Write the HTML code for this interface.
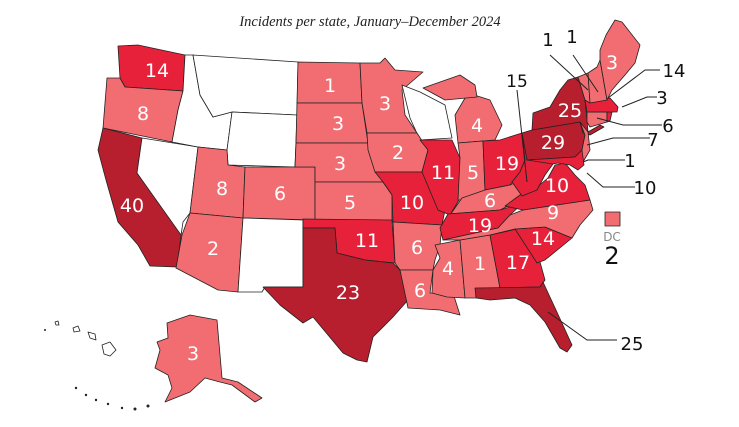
<!DOCTYPE html>
<html><head><style>
body{margin:0;background:#fff;width:739px;height:427px;overflow:hidden}
svg{display:block}
.s{stroke:#222;stroke-width:0.8;stroke-linejoin:round}
.L{fill:#f26d72}.M{fill:#e8213b}.D{fill:#b71f2e}.W{fill:#fff}
.t{font-family:"DejaVu Sans","Liberation Sans",sans-serif;fill:#fff;font-size:19px;text-anchor:middle}
.k{font-family:"DejaVu Sans","Liberation Sans",sans-serif;fill:#111;font-size:18px;text-anchor:middle}
.ln{stroke:#222;stroke-width:1;fill:none}
</style></head><body>
<svg width="739" height="427" viewBox="0 0 739 427">
<text x="370" y="26" text-anchor="middle" font-family="Liberation Serif,serif" font-style="italic" font-size="14.5" fill="#222">Incidents per state, January–December 2024</text>
<g class="s">
<polygon class="M" points="118,46 138,45 185,55 183,91 125,87 120,78"/>
<polygon class="L" points="107,78 120,78 125,87 183,91 178,110 172,142 103,128"/>
<polygon class="D" points="103,128 142,138 137,173 182,228 177,267 150,266 138,245 118,222 106,180 98,150"/>
<polygon class="W" points="142,138 198,147 190,213 183,222 181,235 137,173"/>
<polygon class="W" points="185,55 193,55 200,95 213,117 232,112 227,150 198,147 172,142 178,110 183,91"/>
<polygon class="W" points="193,55 298,62 297,115 232,112 213,117 200,95"/>
<polygon class="W" points="232,112 297,115 295,167 228,165 227,150"/>
<polygon class="L" points="198,147 227,150 228,165 245,167 243,218 190,213"/>
<polygon class="L" points="245,167 315,167 315,220 243,218"/>
<polygon class="L" points="190,213 243,218 238,292 218,290 176,268 182,235"/>
<polygon class="W" points="243,218 303,220 303,287 265,287 262,292 238,292"/>
<polygon class="L" points="298,62 360,63 362,103 297,103"/>
<polygon class="L" points="297,103 362,103 368,143 296,143"/>
<polygon class="L" points="296,143 368,143 375,160 383,182 315,182 315,167 295,167"/>
<polygon class="L" points="315,182 383,182 392,195 392,222 315,220"/>
<polygon class="M" points="303,219 392,220 395,263 365,260 337,253 335,228 303,228"/>
<polygon class="D" points="303,228 335,228 337,253 365,260 393,263 400,270 408,300 393,317 373,337 367,362 357,360 343,353 313,317 303,323 280,305 263,287 303,287"/>
<polygon class="L" points="360,63 380,63 385,58 395,70 423,72 402,90 405,115 417,133 367,133 362,103"/>
<polygon class="W" points="402,85 420,92 445,105 452,138 420,140 410,118"/>
<polygon class="L" points="367,133 417,133 428,150 422,172 375,172 368,150"/>
<polygon class="M" points="375,172 422,172 438,195 445,210 442,225 393,222 392,195 383,182"/>
<polygon class="L" points="393,222 442,225 440,245 435,260 433,270 400,270 395,263"/>
<polygon class="L" points="400,270 433,270 430,293 453,293 460,315 440,310 408,308"/>
<polygon class="M" points="420,140 452,140 460,158 462,195 450,215 438,210 422,172 428,150"/>
<polygon class="L" points="468,93 490,100 502,125 495,140 458,143 455,115"/>
<polygon class="L" points="423,88 460,75 475,85 477,97 445,100"/>
<polygon class="L" points="458,143 483,141 485,190 470,200 458,200 460,158"/>
<polygon class="M" points="483,141 500,140 522,133 525,160 520,172 510,185 485,190"/>
<polygon class="L" points="450,215 462,198 485,190 510,185 520,180 522,195 510,205 500,210 448,214"/>
<polygon class="M" points="448,214 500,210 523,203 510,215 498,228 443,240 440,228"/>
<polygon class="L" points="435,245 460,240 465,298 447,297 432,293 433,270 440,258"/>
<polygon class="L" points="460,240 490,235 500,288 478,290 476,298 465,298"/>
<polygon class="M" points="490,235 517,229 540,262 545,280 540,287 500,288"/>
<polygon class="D" points="475,288 540,287 543,282 556,310 572,345 567,352 560,348 545,322 530,305 515,298 490,300 476,298"/>
<polygon class="M" points="515,229 545,227 572,238 545,260 537,263"/>
<polygon class="L" points="498,228 510,215 523,210 590,200 593,210 580,225 572,238 545,227 515,229 490,235 460,240 443,240"/>
<polygon class="M" points="505,206 520,195 537,187 548,178 555,165 565,163 575,175 585,185 590,200 523,210"/>
<polygon class="M" points="522,133 527,160 545,160 553,164 545,175 537,190 522,196 512,182 520,172 525,160"/>
<polygon class="D" points="522,133 532,130 580,122 585,135 582,150 575,157 527,160"/>
<polygon class="D" points="532,130 533,113 550,107 560,90 568,80 578,77 585,100 587,120 588,132 600,125 604,127 590,135 583,133 580,122"/>
<polygon class="L" points="580,122 588,132 590,150 583,162 579,155 582,150 585,135"/>
<polygon class="M" points="527,160 575,157 582,150 584,165 578,170 570,165 558,163 553,164"/>
<polygon class="L" points="587,112 607,112 607,122 590,127 587,122"/>
<polygon class="M" points="607,112 612,112 610,121 607,122"/>
<polygon class="M" points="585,100 610,98 618,107 617,112 587,112"/>
<polygon class="L" points="578,77 588,73 590,103 585,100"/>
<polygon class="L" points="588,73 597,67 600,60 607,100 590,103"/>
<polygon class="L" points="600,50 606,35 615,20 622,22 640,45 635,63 625,75 612,90 607,100 600,60"/>
<polygon class="L" points="167,323 190,315 217,320 222,378 238,382 262,398 255,402 232,385 220,382 205,378 190,392 165,402 172,388 168,375 155,368 160,350 157,342 168,338"/>
<polygon class="L" points="605,212 620,212 620,226 605,226"/>
<polygon class="W" points="102,345 110,342 116,350 110,356 104,354"/>
<polygon class="W" points="73,328 78,326 80,331 74,332"/>
<polygon class="W" points="88,332 95,334 96,340 90,338"/>
<polygon class="W" points="55,322 58,321 59,325 56,325"/>
</g>
<g fill="#222"><circle cx="45" cy="330" r="1"/><circle cx="76" cy="388" r="1.2"/><circle cx="86" cy="395" r="1.2"/><circle cx="96" cy="400" r="1.2"/><circle cx="108" cy="404" r="1.2"/><circle cx="122" cy="408" r="1.2"/><circle cx="135" cy="409" r="1.5"/><circle cx="148" cy="406" r="1.5"/></g>
<g class="t">
<text x="157" y="77">14</text><text x="143" y="120">8</text><text x="132" y="212">40</text>
<text x="222" y="195">8</text><text x="280" y="200">6</text><text x="213" y="255">2</text>
<text x="330" y="92">1</text><text x="385" y="110">3</text><text x="338" y="130">3</text><text x="340" y="170">3</text><text x="350" y="209">5</text>
<text x="398" y="159">2</text><text x="412" y="209">10</text><text x="417" y="254">6</text>
<text x="367" y="247">11</text><text x="348" y="299">23</text><text x="420" y="297">6</text>
<text x="443" y="179">11</text><text x="477" y="132">4</text><text x="473" y="179">5</text><text x="507" y="170">19</text>
<text x="490" y="207">6</text><text x="480" y="232">19</text><text x="448" y="275">4</text><text x="480" y="270">1</text>
<text x="518" y="269">17</text><text x="543" y="245">14</text><text x="557" y="192">10</text><text x="553" y="219">9</text>
<text x="553" y="149">29</text><text x="570" y="117">25</text><text x="612" y="69">3</text><text x="193" y="360">3</text>
</g>
<g class="k">
<text x="517" y="87" font-size="17">15</text><text x="548" y="46">1</text><text x="572" y="43">1</text>
<text x="674" y="77">14</text><text x="662" y="104">3</text><text x="668" y="132">6</text><text x="653" y="146">7</text><text x="630" y="167">1</text><text x="645" y="194">10</text>
<text x="632" y="350">25</text>
<text x="612" y="241" font-size="12" fill="#888">DC</text><text x="612" y="264" font-size="24">2</text>
</g>
<g class="ln">
<line x1="550" y1="55" x2="588" y2="90"/><line x1="573" y1="55" x2="598" y2="92"/>
<polyline points="660,70 645,70 608,98"/><polyline points="657,97 647,97 622,107"/>
<polyline points="662,125 623,125 597,118"/><polyline points="650,138 613,138 587,145"/>
<polyline points="625,160 588,160 583,162"/><polyline points="635,187 603,187 587,173"/>
<line x1="517" y1="90" x2="527" y2="182"/><polyline points="617,340 587,340 548,312"/>
</g>
</svg>
</body></html>
